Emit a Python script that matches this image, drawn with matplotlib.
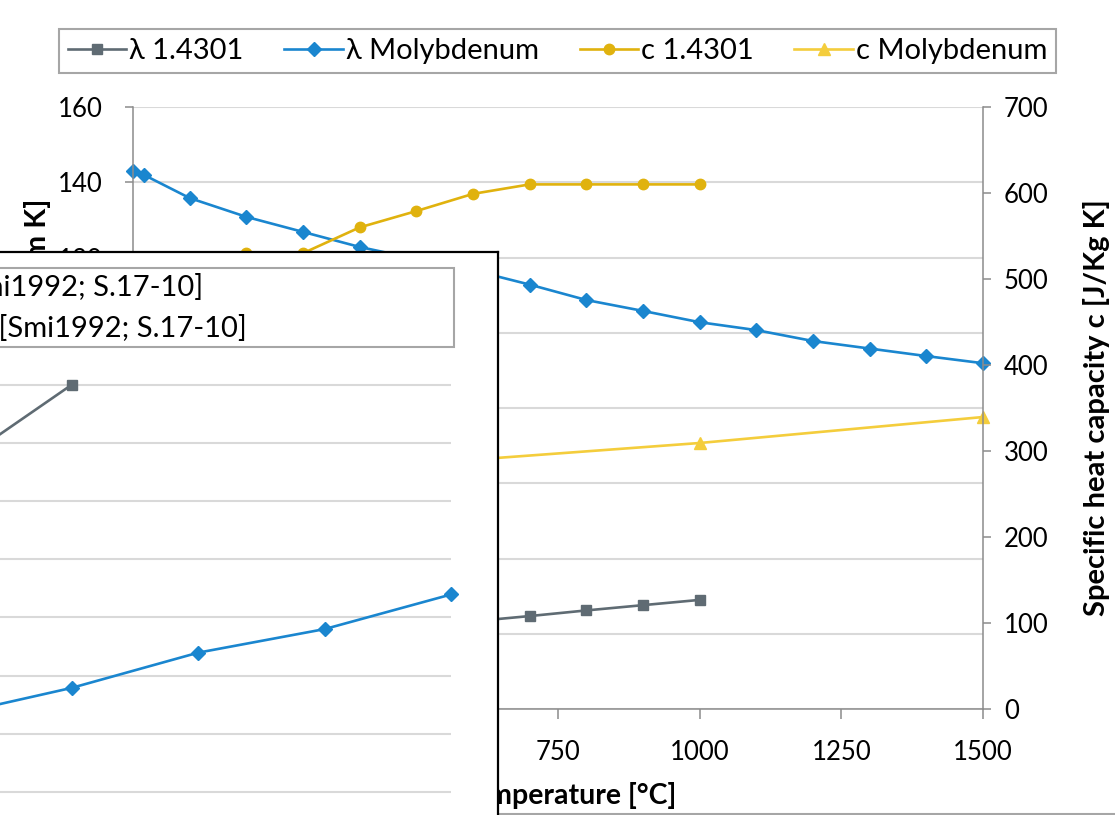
import matplotlib
matplotlib.use("Agg")
import matplotlib.pyplot as plt
from matplotlib.lines import Line2D
from matplotlib.patches import Rectangle

plt.rcParams['font.family'] = ['Lato', 'DejaVu Sans']

# main chart data
temp_steel = [20, 100, 200, 300, 400, 500, 600, 700, 800, 900, 1000]
lambda_steel = [15.0, 16.0, 17.4, 18.8, 20.3, 21.8, 23.3, 24.7, 26.2, 27.6, 29.0]
c_steel = [500, 515, 530, 530, 560, 579, 599, 610, 610, 610, 610]

temp_mo = [0, 20, 100, 200, 300, 400, 500, 600, 700, 800, 900, 1000,
           1100, 1200, 1300, 1400, 1500]
lambda_mo = [143.0, 141.9, 135.8, 130.8, 126.8, 122.8, 119.6, 116.6, 112.8,
             108.7, 105.8, 102.8, 100.7, 97.8, 95.8, 93.8, 91.9]

temp_c_mo = [20, 500, 1000, 1500]
c_mo = [250, 285, 309.3, 339.5]

# overlapping second chart (only partly visible)
inset_temp = [100, 200, 300, 400, 500]
inset_steel = [13.0, 16.0]
inset_mo = [4.6, 5.58, 6.79, 7.60, 8.79]

labels = ['λ 1.4301', 'λ Molybdenum', 'c 1.4301', 'c Molybdenum']
inset_labels = ['λ 1.4301 [Smi1992; S.17-10]', 'λ Molybdenum [Smi1992; S.17-10]']

GRAY = '#5f6b73'
BLUE = '#1a86cf'
GOLD = '#e0b20e'
YELLOW = '#f4cd3c'
AXC = '#8c8c8c'
GRID = '#d9d9d9'
TXT = 21
TICK = 18.5

W, H = 1115, 815


def fx(x):
    return x / W


def fy(y):
    return 1 - y / H


fig = plt.figure(figsize=(W / 100, H / 100), dpi=100)
ax = fig.add_axes([fx(133), fy(709), fx(983) - fx(133), fy(107) - fy(709)])
ax2 = ax.twinx()

l1, = ax.plot(temp_steel, lambda_steel, color=GRAY, lw=1.9, marker='s', ms=7,
              clip_on=False)
l2, = ax.plot(temp_mo, lambda_mo, color=BLUE, lw=1.9, marker='D', ms=7.2,
              clip_on=False)
l3, = ax2.plot(temp_steel, c_steel, color=GOLD, lw=1.9, marker='o', ms=7.5,
               clip_on=False)
l4, = ax2.plot(temp_c_mo, c_mo, color=YELLOW, lw=1.9, marker='^', ms=9,
               clip_on=False)

ax.set_xlim(0, 1500)
ax.set_ylim(0, 160)
ax2.set_ylim(0, 700)
ax.set_xticks(range(0, 1501, 250))
ax.set_yticks(range(0, 161, 20))
ax2.set_yticks(range(0, 701, 100))

ax.set_axisbelow(True)
ax.yaxis.grid(True, color=GRID, lw=1.5)

for a in (ax, ax2):
    a.spines['top'].set_visible(False)
    for s in ('left', 'right', 'bottom'):
        a.spines[s].set_color(AXC)
        a.spines[s].set_linewidth(1.1)
ax.spines['right'].set_visible(False)
ax2.spines['left'].set_visible(False)
ax2.spines['bottom'].set_visible(False)

ax.tick_params(axis='y', direction='out', length=6, width=1.1, color=AXC,
               pad=16, labelsize=TICK)
ax.tick_params(axis='x', direction='out', length=7, width=1.1, color=AXC,
               pad=15, labelsize=TICK)
ax2.tick_params(axis='y', direction='out', length=6, width=1.1, color=AXC,
                pad=9, labelsize=TICK)

ax.set_xlabel('Temperature [°C]', fontsize=20.5, fontweight='bold')
ax.xaxis.set_label_coords((566 - 133) / 850, (709 - 782) / 602)
ax.set_ylabel('Thermal conductivity λ [W/m K]', fontsize=TXT, fontweight='bold')
ax.yaxis.set_label_coords((51 - 133) / 850, 0.5)
ax2.set_ylabel('Specific heat capacity c [J/Kg K]', fontsize=TXT, fontweight='bold')
ax2.yaxis.set_label_coords((1083 - 133) / 850, 0.5)

leg = ax2.legend([l1, l2, l3, l4], labels, loc='center',
                 bbox_to_anchor=(fx(557.5), fy(51)), bbox_transform=fig.transFigure,
                 ncol=4, fontsize=TXT, frameon=True, fancybox=False,
                 edgecolor='#a6a6a6', framealpha=1, handlelength=2.0,
                 handletextpad=0.1, columnspacing=1.4, borderpad=0.3)
leg.get_frame().set_linewidth(1.5)

# bottom border of the chart area
fig.add_artist(Line2D([0, 1], [fy(814), fy(814)], transform=fig.transFigure,
                      color='#a6a6a6', lw=1.5, zorder=5))

# overlapping panel of a second chart
axf = fig.add_axes([fx(-20), fy(840), fx(498) - fx(-20), fy(252) - fy(840)],
                   zorder=10)
axf.set_xticks([])
axf.set_yticks([])
for s in axf.spines.values():
    s.set_color('black')
    s.set_linewidth(1.6)

axi = fig.add_axes([fx(-181.1), fy(850.2), fx(451) - fx(-181.1),
                    fy(360) - fy(850.2)], zorder=11)
axi.patch.set_visible(False)
axi.plot(inset_temp[:len(inset_steel)], inset_steel, color=GRAY, lw=1.9,
         marker='s', ms=7, clip_on=False)
axi.plot(inset_temp, inset_mo, color=BLUE, lw=1.9, marker='D', ms=7.2,
         clip_on=False)
axi.set_xlim(0, 500)
axi.set_ylim(0, 16.85)
axi.set_yticks(range(0, 17, 2))
axi.set_axisbelow(True)
axi.yaxis.grid(True, color=GRID, lw=1.5)
axi.tick_params(left=False, bottom=False, labelleft=False, labelbottom=False)
for s in axi.spines.values():
    s.set_visible(False)

fig.add_artist(Rectangle((fx(-10), fy(347)), fx(454) - fx(-10), fy(268) - fy(347),
                         transform=fig.transFigure, facecolor='white',
                         edgecolor='#a6a6a6', lw=1.5, zorder=12))
fig.text(fx(203), fy(288), inset_labels[0], ha='right', va='center',
         fontsize=TXT, zorder=13)
fig.text(fx(246.7), fy(328), inset_labels[1], ha='right', va='center',
         fontsize=TXT, zorder=13)

fig.savefig('out.png', dpi=100)
